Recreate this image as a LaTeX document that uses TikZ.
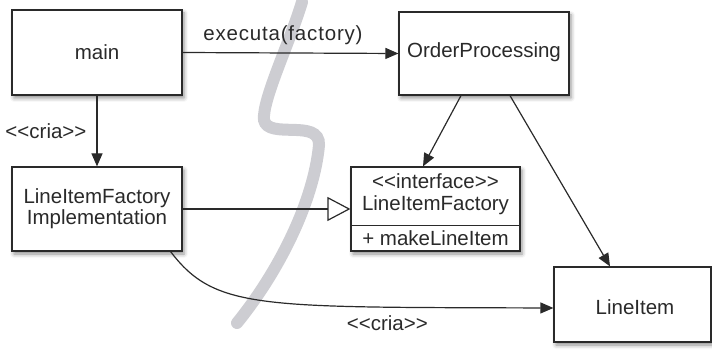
\documentclass[tikz,border=0pt]{standalone}
\usepackage{fontspec}
\setmainfont{Liberation Sans}
\usetikzlibrary{arrows.meta,shadows.blur}
\definecolor{ink}{HTML}{2A2A2A}
\definecolor{squiggle}{HTML}{CDCDD2}
% stereotype brackets, kept apart so they are not merged into guillemets
\newcommand\stereo[1]{<\kern0pt<#1>\kern0pt>}
\tikzset{
  umlbox/.style={draw=ink, line width=1.2pt, fill=white, inner sep=0pt,
    blur shadow={shadow xshift=2pt, shadow yshift=-3pt, shadow blur radius=4pt, shadow opacity=45}},
  txt/.style={font=\fontsize{20.5pt}{21pt}\selectfont, text=ink, inner sep=0pt, align=center},
  link/.style={draw=ink, line width=1.2pt, -{Triangle[length=13pt,width=11pt]}},
  realizes/.style={draw=ink, line width=1.2pt, -{Triangle[open,length=23pt,width=24pt,fill=white]}}
}
\begin{document}
\begin{tikzpicture}[x=1pt,y=-1pt]
\useasboundingbox (0,0) rectangle (712,352);
% background squiggle
\draw[squiggle, line width=12pt, line cap=round]
  (302,2) .. controls (290,42) and (262,100) .. (264,120)
  .. controls (268,140) and (320,118) .. (319,145)
  .. controls (314,200) and (280,270) .. (237,323);
% class boxes
\node[umlbox, minimum width=170pt, minimum height=85pt] (main) at (97,52.5) {};
\node[txt] at (main.center) {main};
\node[umlbox, minimum width=170pt, minimum height=83pt] (op) at (484,53.5) {};
\node[txt] at (484,52) {OrderProcessing};
\node[umlbox, minimum width=170pt, minimum height=84pt] (lifi) at (97,209) {};
\node[txt] at (97,208.5) {LineItemFactory\\Implementation};
\node[umlbox, minimum width=169pt, minimum height=84pt] (ifc) at (435.5,209) {};
\node[txt] (ifcst) at (435.5,181) {\stereo{interface}};
\node[txt] (ifcname) at (435.5,205) {LineItemFactory};
\node[txt] (ifcop) at (435.5,238) {+ makeLineItem};
\draw[ink, line width=1.2pt] ([yshift=-59pt]ifc.north west) -- ([yshift=-59pt]ifc.north east);
\node[umlbox, minimum width=157pt, minimum height=75pt] (li) at (632.5,304.5) {};
\node[txt] at (635,307) {LineItem};
% connectors
\draw[link] (main.east) -- (op.west)
  node[txt, pos=0.465, above=8pt] {\addfontfeature{LetterSpace=4}executa(factory)};
\draw[link] (main.south) -- (lifi.north)
  node[txt, pos=0.5, left=10pt] {\stereo{cria}};
\draw[realizes] (lifi.east) -- (ifc.west);
\draw[link] ([xshift=-23pt]op.south) -- ([xshift=-12.5pt]ifc.north);
\draw[link] ([xshift=26pt]op.south) -- ([xshift=-22.5pt]li.north);
\draw[link] ([xshift=-12pt]lifi.south east) .. controls (215,310) and (260,307) .. ([yshift=-3.5pt]li.west)
  node[txt, pos=0.77, below=8pt] {\stereo{cria}};
\end{tikzpicture}
\end{document}
